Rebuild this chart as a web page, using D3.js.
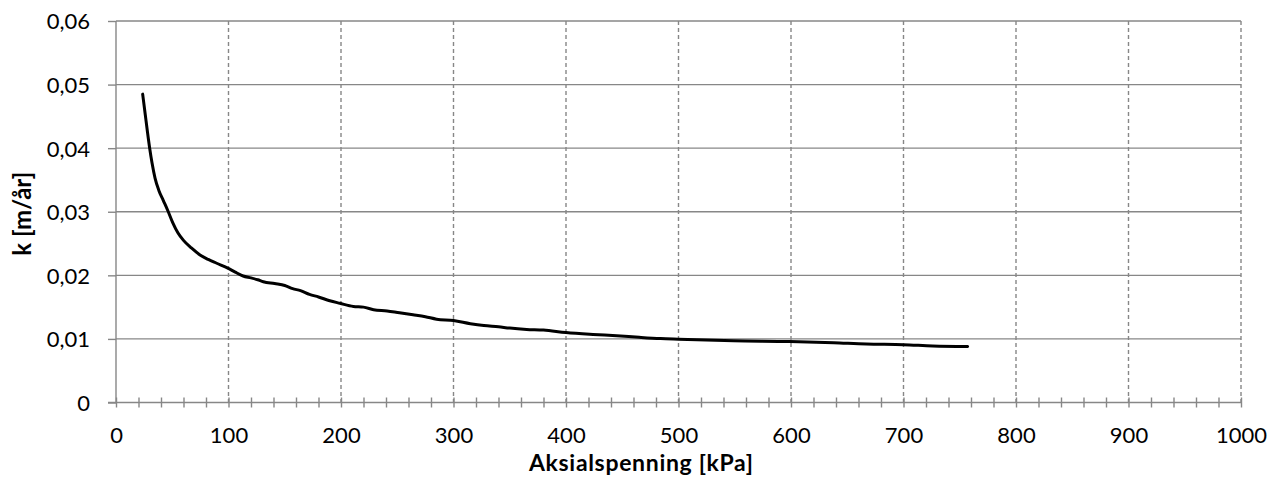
<!DOCTYPE html>
<html>
<head>
<meta charset="utf-8">
<script src="https://cdn.jsdelivr.net/npm/d3@7/dist/d3.min.js"></script>
<style>
  html, body { margin: 0; padding: 0; background: #fff; }
  svg { display: block; }
  text { font-family: Lato, "Liberation Sans", sans-serif; fill: #000; }
</style>
</head>
<body>
<svg id="chart" width="1271" height="479"></svg>
<script>
// Axial stress [kPa] and permeability k [m/år]
const stress = [23.7, 26, 28, 30, 32, 34.7, 38, 42, 46, 50.4, 55, 60, 67, 74.7, 82, 89.5, 99.8, 106, 113, 120, 126, 131, 141, 150, 157, 164, 172, 180, 190, 199, 211, 220, 229, 241, 252, 264, 275, 285, 300, 315, 327, 340, 350, 365, 380, 400, 424, 445, 465, 484, 500, 549, 599, 638, 667, 700, 726, 757];
const kValues = [0.0485, 0.0453, 0.0425, 0.0399, 0.0377, 0.0353, 0.0334, 0.0318, 0.0302, 0.0283, 0.0267, 0.0255, 0.0243, 0.0232, 0.0225, 0.0219, 0.0211, 0.0205, 0.0199, 0.0196, 0.0193, 0.0190, 0.0187, 0.0184, 0.0179, 0.0176, 0.0170, 0.0166, 0.0160, 0.0156, 0.0151, 0.0150, 0.0146, 0.0144, 0.0141, 0.0138, 0.0135, 0.0131, 0.0129, 0.0124, 0.0121, 0.0119, 0.0117, 0.0115, 0.0114, 0.0110, 0.0107, 0.0105, 0.01025, 0.01005, 0.00995, 0.0097, 0.0096, 0.0094, 0.0092, 0.0091, 0.0089, 0.0088];

const xTicks = [0, 100, 200, 300, 400, 500, 600, 700, 800, 900, 1000];
const yTicks = [0, 0.01, 0.02, 0.03, 0.04, 0.05, 0.06];
const xMinorTicks = d3.range(0, 1001, 20);

const xTitle = "Aksialspenning [kPa]";
const yTitle = "k [m/år]";

const svg = d3.select("#chart");
const plotLeft = 116, plotRight = 1241, plotTop = 21, plotBottom = 402.5;

const x = d3.scaleLinear().domain([0, 1000]).range([plotLeft, plotRight]);
const y = d3.scaleLinear().domain([0, 0.06]).range([plotBottom, plotTop]);

const gridColor = "#878787";
const fmtY = v => v === 0 ? "0" : d3.format(".2f")(v).replace(".", ",");

// horizontal gridlines (solid)
svg.append("g")
  .selectAll("line")
  .data(yTicks.filter(v => v > 0))
  .join("line")
  .attr("x1", plotLeft).attr("x2", plotRight)
  .attr("y1", d => y(d)).attr("y2", d => y(d))
  .attr("stroke", gridColor).attr("stroke-width", 1.4);

// vertical gridlines (dashed)
svg.append("g")
  .selectAll("line")
  .data(xTicks.filter(v => v > 0))
  .join("line")
  .attr("x1", d => x(d)).attr("x2", d => x(d))
  .attr("y1", plotTop).attr("y2", plotBottom)
  .attr("stroke", gridColor).attr("stroke-width", 1.4)
  .attr("stroke-dasharray", "4,3");

// y axis
const yAxis = d3.axisLeft(y).tickValues(yTicks).tickSize(8).tickPadding(18).tickFormat(fmtY);
const gy = svg.append("g").attr("transform", `translate(${plotLeft},0)`).call(yAxis);
gy.select(".domain").attr("stroke", gridColor).attr("stroke-width", 1.4).attr("d", `M0,${plotTop}V${plotBottom}`);
gy.selectAll(".tick line").attr("stroke", gridColor).attr("stroke-width", 1.4);
gy.selectAll(".tick text").attr("font-size", 22).attr("font-family", "Lato, sans-serif").attr("fill", "#000").attr("dy", "0.36em");

// x axis: crossing minor ticks
const xAxisMinor = d3.axisBottom(x).tickValues(xMinorTicks).tickSize(5).tickFormat("");
const gxm = svg.append("g").attr("transform", `translate(0,${plotBottom})`).call(xAxisMinor);
gxm.select(".domain").attr("stroke", gridColor).attr("stroke-width", 1.4).attr("d", `M${plotLeft - 8},0H${plotRight}`);
gxm.selectAll(".tick line").attr("stroke", gridColor).attr("stroke-width", 1.4).attr("y1", -5).attr("y2", 5);

const xAxis = d3.axisBottom(x).tickValues(xTicks).tickSize(0).tickPadding(25).tickFormat(d3.format("d"));
const gx = svg.append("g").attr("transform", `translate(0,${plotBottom})`).call(xAxis);
gx.select(".domain").remove();
gx.selectAll(".tick text").attr("font-size", 22).attr("font-family", "Lato, sans-serif").attr("fill", "#000");

// data line
const pts = stress.map((s, i) => [s, kValues[i]]);
svg.append("path")
  .datum(pts)
  .attr("fill", "none")
  .attr("stroke", "#000")
  .attr("stroke-width", 3)
  .attr("stroke-linejoin", "round")
  .attr("stroke-linecap", "round")
  .attr("d", d3.line().curve(d3.curveMonotoneX).x(d => x(d[0])).y(d => y(d[1])));

// axis titles
svg.append("text")
  .attr("x", 641).attr("y", 471)
  .attr("text-anchor", "middle")
  .attr("font-size", 23).attr("font-weight", "bold")
  .attr("textLength", 224).attr("lengthAdjust", "spacing")
  .text(xTitle);

svg.append("text")
  .attr("transform", `translate(31,${(plotTop + plotBottom) / 2 + 2}) rotate(-90)`)
  .attr("text-anchor", "middle")
  .attr("font-size", 24).attr("font-weight", "bold")
  .text(yTitle);
</script>
</body>
</html>
